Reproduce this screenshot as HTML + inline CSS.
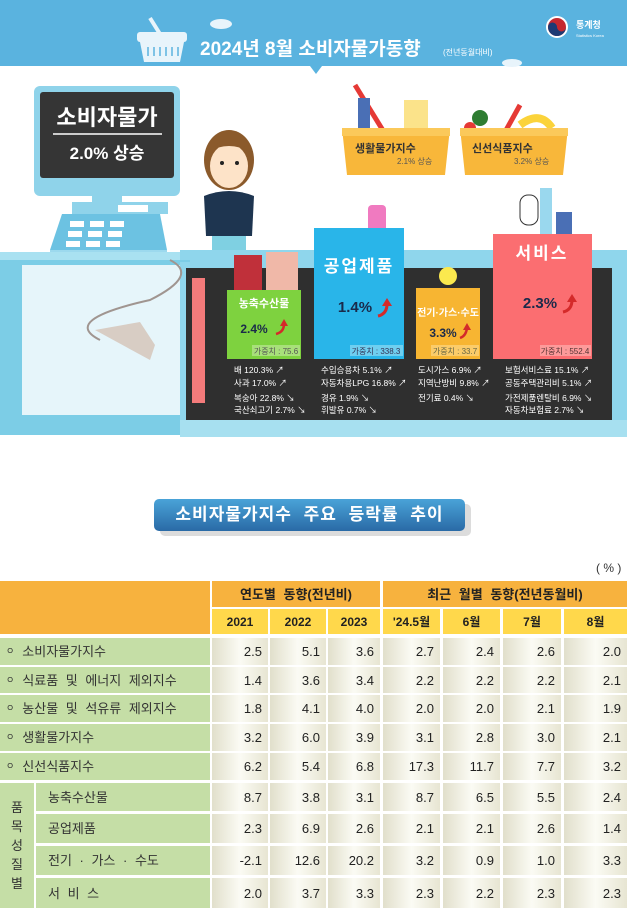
<!DOCTYPE html>
<html><head><meta charset="utf-8"><style>
*{margin:0;padding:0;box-sizing:border-box}
body{width:627px;height:912px;background:#fff;font-family:"Liberation Sans","Noto Sans CJK KR",sans-serif;position:relative;overflow:hidden}
svg text{font-family:"Liberation Sans","Noto Sans CJK KR",sans-serif}
.btn{position:absolute;left:154px;top:499px;width:311px;height:32px;border-radius:5px;background:linear-gradient(#4aa3d8,#2a6aa6);color:#fff;font-size:17px;font-weight:bold;text-align:center;line-height:32px;letter-spacing:1px;box-shadow:6px 5px 0 #dcdcdc;word-spacing:6px}
.unit{position:absolute;left:596px;top:561px;font-size:12px;color:#333}
.c{position:absolute;font-size:12px;line-height:1}
.h1{background:#f7b23e;color:#222;font-weight:bold;font-size:13px;display:flex;align-items:center;justify-content:center;word-spacing:4px}
.h2{background:#ffd84b;color:#222;font-weight:bold;font-size:12px;display:flex;align-items:center;justify-content:center}
.lb{background:#c5dea6;color:#333;font-size:13px;display:flex;align-items:center;padding-left:6px;word-spacing:4px}
.d{background:linear-gradient(90deg,#e1dfcb,#fbfbf4 50%,#e7e5d2);color:#222;font-size:13px;display:flex;align-items:center;justify-content:flex-end;padding-right:6px}
</style></head><body>
<svg width="627" height="470" style="position:absolute;left:0;top:0">
<rect x="0" y="0" width="627" height="66" fill="#5ab3df"/>
<polygon points="310,66 322,66 316,74" fill="#5ab3df"/>
<path d="M150,18 L160,34" stroke="#e8f4fb" stroke-width="4"/>
<rect x="137" y="32" width="50" height="10" rx="3" fill="#e8f4fb"/>
<path d="M140,42 L184,42 L180,62 L144,62Z" fill="#e8f4fb"/>
<g stroke="#5ab3df" stroke-width="1.5"><line x1="148" y1="47" x2="148" y2="56"/><line x1="154" y1="47" x2="154" y2="56"/><line x1="160" y1="47" x2="160" y2="56"/><line x1="166" y1="47" x2="166" y2="56"/><line x1="172" y1="47" x2="172" y2="56"/><line x1="178" y1="47" x2="178" y2="56"/></g>
<ellipse cx="221" cy="24" rx="11" ry="5" fill="#e8f4fb"/><ellipse cx="512" cy="63" rx="10" ry="4" fill="#e8f4fb"/>
<text x="200" y="55" font-size="19" fill="#fff" font-weight="bold">2024년  8월 소비자물가동향</text>
<text x="443" y="55" font-size="8" fill="#fff">(전년동월대비)</text>
<circle cx="557" cy="27" r="11" fill="#fff"/><circle cx="557" cy="27" r="9" fill="#c5282f"/><path d="M548,27 a9,9 0 0 0 18,0 a4.5,4.5 0 0 1 -9,0 a4.5,4.5 0 0 0 -9,0z" fill="#1d3a74"/>
<text x="576" y="28" font-size="9" fill="#fff" font-weight="bold">통계청</text>
<text x="576" y="37" font-size="4" fill="#fff">Statistics Korea</text>
<rect x="34" y="86" width="146" height="110" rx="6" fill="#8fd3ea"/>
<rect x="40" y="92" width="134" height="86" rx="3" fill="#353535"/>
<text x="107" y="125" font-size="22" fill="#fff" text-anchor="middle" font-weight="bold">소비자물가</text>
<line x1="53" y1="134" x2="162" y2="134" stroke="#fff" stroke-width="1.5"/>
<text x="107" y="159" font-size="17" fill="#fff" text-anchor="middle" font-weight="bold">2.0% 상승</text>
<rect x="92" y="196" width="30" height="8" fill="#8fd3ea"/>
<rect x="72" y="202" width="96" height="12" fill="#8fd3ea"/><rect x="118" y="205" width="30" height="7" fill="#fff"/>
<path d="M62,214 L160,214 L167,250 L50,250Z" fill="#6cc2e2"/>
<g fill="#fff"><rect x="70" y="221" width="14" height="6"/><rect x="90" y="221" width="14" height="6"/><rect x="110" y="221" width="14" height="6"/><rect x="68" y="231" width="14" height="6"/><rect x="88" y="231" width="14" height="6"/><rect x="108" y="231" width="14" height="6"/><rect x="66" y="241" width="14" height="6"/><rect x="86" y="241" width="14" height="6"/><rect x="106" y="241" width="14" height="6"/></g>
<rect x="50" y="250" width="117" height="13" fill="#9cd9ee"/><rect x="55" y="255" width="106" height="4" fill="#2b3e57"/>
<ellipse cx="229" cy="160" rx="25" ry="30" fill="#8b5a2b"/>
<ellipse cx="229" cy="166" rx="19" ry="22" fill="#fde3c8"/>
<path d="M208,152 Q229,128 250,152 Q229,140 208,152" fill="#8b5a2b"/>
<circle cx="222" cy="163" r="2" fill="#222"/><circle cx="237" cy="163" r="2" fill="#222"/>
<path d="M204,196 Q229,186 254,196 L252,236 L206,236Z" fill="#1e3550"/>
<rect x="212" y="236" width="34" height="16" fill="#7fd0e2"/>
<rect x="0" y="252" width="627" height="8" fill="#a9e1f1"/>
<rect x="180" y="250" width="447" height="18" fill="#8fd6ec"/>
<rect x="0" y="260" width="190" height="175" fill="#7ccde6"/>
<rect x="22" y="265" width="164" height="150" fill="#e6f5fa"/>
<rect x="180" y="262" width="447" height="175" fill="#8fd6ec"/>
<rect x="186" y="268" width="426" height="152" fill="#2f2f2f"/>
<rect x="180" y="420" width="447" height="17" fill="#a7e0f0"/>
<path d="M170,260 Q200,275 150,300 Q60,320 100,340" stroke="#a09590" stroke-width="2" fill="none"/>
<path d="M95,330 L140,322 L155,345 L150,360 Z" fill="#d8cdc4"/>
<rect x="192" y="278" width="13" height="125" fill="#f47b7b"/>
<rect x="234" y="255" width="28" height="38" fill="#c0303a"/><rect x="266" y="252" width="32" height="40" fill="#f0b8a8"/>
<rect x="227" y="290" width="74" height="69" fill="#7ed23f"/>
<text x="264" y="307" font-size="11" fill="#fff" text-anchor="middle" font-weight="bold">농축수산물</text>
<text x="254" y="333" font-size="12" fill="#1a2a4a" text-anchor="middle" font-weight="bold">2.4%</text>
<path d="M276,334 q8,-2 8,-10" stroke="#d42a2a" stroke-width="2.5" fill="none"/><polygon points="280,326 288,326 284,319" fill="#d42a2a"/>
<rect x="252" y="345" width="48" height="11" fill="#a8e07a"/><text x="276" y="354" font-size="8" fill="#555" text-anchor="middle">가중치 : 75.6</text>
<rect x="326" y="205" width="16" height="28" fill="#fff"/><rect x="345" y="228" width="22" height="18" fill="#f0f0f0"/><rect x="368" y="205" width="18" height="40" rx="4" fill="#f07ac0"/>
<rect x="314" y="228" width="90" height="131" fill="#29b5e9"/>
<text x="359" y="272" font-size="17" fill="#fff" text-anchor="middle" font-weight="bold" letter-spacing="2">공업제품</text>
<text x="355" y="312" font-size="15" fill="#1a2a4a" text-anchor="middle" font-weight="bold">1.4%</text>
<path d="M378,316 q9,-2 9,-12" stroke="#d42a2a" stroke-width="3" fill="none"/><polygon points="382,306 392,306 387,298" fill="#d42a2a"/>
<rect x="350" y="345" width="53" height="11" fill="#6fcff0"/><text x="376" y="354" font-size="8" fill="#335" text-anchor="middle">가중치 : 338.3</text>
<circle cx="448" cy="276" r="9" fill="#fbe94e"/>
<rect x="416" y="288" width="64" height="71" fill="#f7b532"/>
<text x="448" y="316" font-size="10" fill="#fff" text-anchor="middle" font-weight="bold">전기·가스·수도</text>
<text x="443" y="337" font-size="12" fill="#1a2a4a" text-anchor="middle" font-weight="bold">3.3%</text>
<path d="M460,338 q6,-2 7,-10" stroke="#d42a2a" stroke-width="2.5" fill="none"/><polygon points="463,330 471,330 467,323" fill="#d42a2a"/>
<rect x="431" y="345" width="48" height="11" fill="#fbcc6a"/><text x="455" y="354" font-size="8" fill="#664" text-anchor="middle">가중치 : 33.7</text>
<rect x="520" y="195" width="18" height="30" rx="8" fill="#fff" stroke="#333"/><rect x="540" y="188" width="12" height="50" fill="#9ad8ee"/><rect x="556" y="212" width="16" height="30" fill="#4a6fb5"/>
<rect x="493" y="234" width="99" height="125" fill="#fb6e71"/>
<text x="542" y="259" font-size="17" fill="#fff" text-anchor="middle" font-weight="bold" letter-spacing="2">서비스</text>
<text x="540" y="308" font-size="15" fill="#1a2a4a" text-anchor="middle" font-weight="bold">2.3%</text>
<path d="M563,312 q9,-2 9,-12" stroke="#d42a2a" stroke-width="3" fill="none"/><polygon points="567,302 577,302 572,294" fill="#d42a2a"/>
<rect x="540" y="345" width="51" height="11" fill="#fd9a9a"/><text x="565" y="354" font-size="8" fill="#533" text-anchor="middle">가중치 : 552.4</text>
<g font-size="8.5" fill="#fff">
<text x="234" y="373">배 120.3% ↗</text><text x="234" y="386">사과 17.0% ↗</text><text x="234" y="401">복숭아 22.8% ↘</text><text x="234" y="413">국산쇠고기 2.7% ↘</text>
<text x="321" y="373">수입승용차 5.1% ↗</text><text x="321" y="386">자동차용LPG 16.8% ↗</text><text x="321" y="401">경유 1.9% ↘</text><text x="321" y="413">휘발유 0.7% ↘</text>
<text x="418" y="373">도시가스 6.9% ↗</text><text x="418" y="386">지역난방비 9.8% ↗</text><text x="418" y="401">전기료 0.4% ↘</text>
<text x="505" y="373">보험서비스료 15.1% ↗</text><text x="505" y="386">공동주택관리비 5.1% ↗</text><text x="505" y="401">가전제품렌탈비 6.9% ↘</text><text x="505" y="413">자동차보험료 2.7% ↘</text>
</g>
<path d="M355,85 L395,150" stroke="#e53935" stroke-width="5"/><rect x="404" y="100" width="24" height="40" fill="#fbe38a"/><rect x="358" y="98" width="12" height="30" fill="#4a6fb5"/>
<path d="M342,128 L450,128 L445,175 L347,175Z" fill="#f8b73a"/><rect x="342" y="128" width="108" height="8" fill="#fbc95a"/>
<text x="355" y="152" font-size="11" fill="#333" font-weight="bold">생활물가지수</text><text x="397" y="164" font-size="8" fill="#555">2.1% 상승</text>
<circle cx="480" cy="118" r="8" fill="#2e7d32"/><circle cx="470" cy="128" r="6" fill="#e53935"/><path d="M520,105 L495,150" stroke="#e53935" stroke-width="5"/><path d="M520,125 Q540,110 552,128" stroke="#fbd33a" stroke-width="8" fill="none"/>
<path d="M460,128 L568,128 L563,175 L465,175Z" fill="#f8b73a"/><rect x="460" y="128" width="108" height="8" fill="#fbc95a"/>
<text x="472" y="152" font-size="11" fill="#333" font-weight="bold">신선식품지수</text><text x="514" y="164" font-size="8" fill="#555">3.2% 상승</text>
</svg>
<div class="btn">소비자물가지수 주요 등락률 추이</div>
<div class="unit">( % )</div>
<div class="c h1" style="left:0;top:581px;width:210px;height:53px"></div>
<div class="c h1" style="left:212px;top:581px;width:168px;height:26px">연도별 동향(전년비)</div>
<div class="c h1" style="left:383px;top:581px;width:244px;height:26px">최근 월별 동향(전년동월비)</div>
<div class="c h2" style="left:212px;top:609px;width:56px;height:25px">2021</div>
<div class="c h2" style="left:270px;top:609px;width:56px;height:25px">2022</div>
<div class="c h2" style="left:328px;top:609px;width:52px;height:25px">2023</div>
<div class="c h2" style="left:383px;top:609px;width:57px;height:25px">'24.5월</div>
<div class="c h2" style="left:443px;top:609px;width:57px;height:25px">6월</div>
<div class="c h2" style="left:503px;top:609px;width:58px;height:25px">7월</div>
<div class="c h2" style="left:564px;top:609px;width:63px;height:25px">8월</div>
<div id="rows"></div>
<script>
var rows=[[638,665,"ㅇ 소비자물가지수",["2.5","5.1","3.6","2.7","2.4","2.6","2.0"]],
[667,693,"ㅇ 식료품 및 에너지 제외지수",["1.4","3.6","3.4","2.2","2.2","2.2","2.1"]],
[695,722,"ㅇ 농산물 및 석유류 제외지수",["1.8","4.1","4.0","2.0","2.0","2.1","1.9"]],
[724,751,"ㅇ 생활물가지수",["3.2","6.0","3.9","3.1","2.8","3.0","2.1"]],
[753,780,"ㅇ 신선식품지수",["6.2","5.4","6.8","17.3","11.7","7.7","3.2"]],
[783,811,"농축수산물",["8.7","3.8","3.1","8.7","6.5","5.5","2.4"]],
[814,843,"공업제품",["2.3","6.9","2.6","2.1","2.1","2.6","1.4"]],
[846,875,"전기 · 가스 · 수도",["-2.1","12.6","20.2","3.2","0.9","1.0","3.3"]],
[878,908,"서 비 스",["2.0","3.7","3.3","2.3","2.2","2.3","2.3"]]];
var cols=[[212,56],[270,56],[328,52],[383,57],[443,57],[503,58],[564,63]];
var h="";
rows.forEach(function(r,i){var t=r[0],ht=r[1]-r[0];
if(i<5)h+='<div class="c lb" style="left:0;top:'+t+'px;width:210px;height:'+ht+'px">'+r[2].replace("ㅇ","<span style=\'font-size:9px;margin-right:8px\'>ㅇ</span>")+'</div>';
else h+='<div class="c lb" style="left:36px;top:'+t+'px;width:174px;height:'+ht+'px;padding-left:12px">'+r[2]+'</div>';
r[3].forEach(function(v,j){h+='<div class="c d" style="left:'+cols[j][0]+'px;top:'+t+'px;width:'+cols[j][1]+'px;height:'+ht+'px">'+v+'</div>';});});
h+='<div class="c lb" style="left:0;top:783px;width:34px;height:125px;padding:0;justify-content:center;text-align:center;line-height:19px">품<br>목<br>성<br>질<br>별</div>';
document.getElementById("rows").innerHTML=h;
</script>
</body></html>
